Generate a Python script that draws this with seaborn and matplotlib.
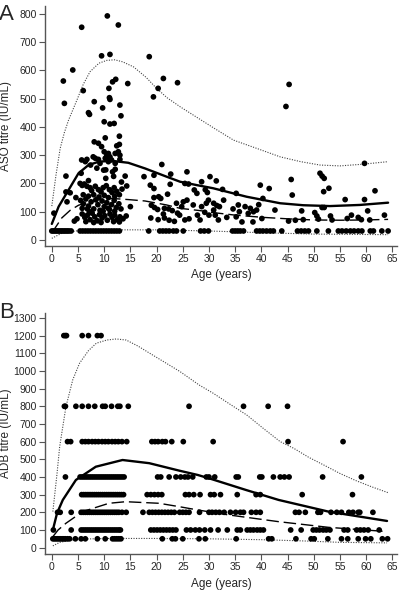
import matplotlib
matplotlib.use("Agg")
import matplotlib.pyplot as plt
import seaborn as sns
import pandas as pd

# ---------------- Panel A: ASO titre by age ----------------
# results at the assay floor
aso_floor = 32
aso_floor_age = [0.0, 0.3, 0.6, 0.9, 1.2, 1.5, 1.8, 2.1, 2.4, 2.7, 3.0, 3.3, 3.7,
                 5.4, 5.9, 6.4, 6.9, 7.4, 7.9, 8.4, 8.9, 9.4, 9.9, 10.4, 10.9, 11.4,
                 11.9, 12.4, 12.9, 18.5, 20.6, 21.2, 21.8, 22.4, 23.2, 23.8, 25.1,
                 28.4, 29.1, 29.9, 34.5, 35.0, 35.5, 36.0, 36.6, 39.1, 39.7, 40.3,
                 41.0, 41.7, 42.3, 43.9, 46.9, 47.6, 48.3, 49.0, 50.6, 52.8, 54.7,
                 55.4, 56.2, 57.0, 57.7, 58.5, 59.2, 60.8, 61.4, 63.0, 64.2]

# (age, titre) pairs
aso_high = [(2.2, 562), (2.4, 483), (4.0, 601), (5.7, 752), (6.0, 528), (7.0, 450),
            (7.2, 444), (8.1, 489), (9.5, 651), (9.7, 467), (10.6, 792), (11.1, 656),
            (10.9, 536), (11.0, 503), (11.1, 497), (11.6, 559), (12.2, 568), (12.7, 760),
            (13.0, 477), (13.2, 439), (10.0, 418), (11.1, 410), (11.9, 412), (10.2, 361),
            (12.9, 367), (8.1, 347), (8.9, 342), (9.5, 330), (12.4, 333), (12.9, 338),
            (14.5, 553), (18.6, 648), (19.4, 506), (20.3, 536), (21.3, 571), (24.0, 556),
            (45.3, 550), (44.7, 472)]

aso_young = [(0.4, 95), (2.7, 226), (2.7, 170), (3.5, 167), (2.9, 135), (4.3, 67),
             (4.6, 150)]

aso_child = [(5.7, 283), (6.4, 277), (6.7, 285), (7.4, 265), (7.9, 294), (8.3, 289),
             (8.9, 285), (9.2, 271), (10.2, 289), (10.5, 300), (10.8, 277), (11.1, 294),
             (11.4, 283), (12.1, 306), (12.7, 312), (13.0, 300), (13.0, 285), (12.1, 271),
             (10.0, 312), (10.8, 306),
             (5.6, 236), (8.6, 254), (9.9, 247), (10.3, 248), (11.6, 241), (12.1, 250),
             (11.8, 225), (14.0, 226), (10.3, 218), (7.0, 210), (13.3, 205),
             (5.4, 200), (5.8, 193), (6.2, 198), (6.7, 190), (7.3, 185), (7.6, 175),
             (8.3, 190), (8.9, 178), (9.4, 170), (9.8, 185), (10.4, 192), (11.0, 178),
             (11.5, 168), (11.9, 185), (12.4, 172), (12.9, 160), (13.4, 180), (14.3, 191),
             (6.0, 160), (7.0, 155), (8.0, 160), (9.0, 152), (10.0, 158), (10.8, 150),
             (12.0, 155),
             (5.5, 140), (6.0, 128), (6.5, 145), (7.0, 120), (7.5, 135), (8.0, 110),
             (8.4, 142), (8.8, 125), (9.2, 105), (9.6, 138), (10.0, 118), (10.5, 132),
             (11.0, 108), (11.4, 125), (11.9, 140), (12.3, 115), (12.8, 128), (13.2, 110),
             (5.8, 112), (7.2, 100), (9.8, 102), (6.8, 110), (10.8, 112), (12.0, 102),
             (15.0, 118),
             (5.8, 92), (6.3, 80), (6.8, 88), (7.3, 72), (7.7, 95), (8.2, 82), (8.7, 68),
             (9.1, 90), (9.6, 78), (10.1, 86), (10.6, 70), (11.1, 92), (11.5, 80),
             (12.0, 88), (12.5, 72), (13.0, 82), (13.6, 75), (4.8, 75), (6.5, 65),
             (8.0, 62), (9.4, 62), (11.8, 65), (12.9, 64), (14.2, 85)]

aso_young_adult = [(17.6, 224), (19.5, 229), (21.0, 267), (22.7, 233), (25.8, 241),
                   (22.6, 197), (18.8, 194), (19.5, 182), (19.5, 150), (20.4, 153),
                   (20.8, 147), (22.1, 162), (19.0, 123), (19.6, 115), (20.2, 108),
                   (21.5, 112), (22.3, 110), (23.0, 104), (18.9, 78), (20.3, 72),
                   (21.5, 78), (22.4, 70), (23.4, 66), (24.0, 95), (24.8, 118),
                   (25.1, 135), (25.4, 71), (25.4, 200), (26.1, 198), (27.2, 177),
                   (27.7, 165), (24.4, 88), (25.8, 141), (27.0, 124), (26.2, 75),
                   (27.8, 88), (21.3, 92), (23.8, 130)]

aso_adult = [(28.6, 206), (30.2, 224), (31.4, 209), (32.6, 179), (28.6, 118),
             (29.5, 130), (29.9, 141), (30.9, 130), (30.9, 106), (31.2, 88),
             (31.8, 71), (28.3, 71), (29.3, 178), (29.7, 168), (32.8, 141),
             (33.4, 80), (31.5, 122), (32.0, 118), (29.2, 98), (30.0, 88),
             (35.2, 165), (35.6, 124), (35.8, 100), (36.9, 118), (37.5, 94),
             (38.5, 100), (39.1, 106), (39.8, 194), (40.3, 147), (41.5, 182),
             (42.6, 106), (36.3, 64), (38.4, 64), (40.1, 76), (34.6, 110),
             (35.2, 82), (37.9, 112), (39.5, 125)]

aso_older = [(45.7, 214), (45.9, 159), (45.2, 67), (46.5, 70), (47.7, 103), (48.0, 72),
             (50.2, 97), (50.6, 85), (50.9, 74), (51.2, 236), (51.6, 226), (52.0, 218),
             (51.9, 171), (52.9, 183), (51.6, 115), (52.0, 115), (53.2, 85), (53.5, 71),
             (56.0, 143), (56.4, 76), (57.2, 88), (58.5, 80), (59.1, 72), (59.7, 143),
             (59.7, 271), (60.3, 103), (60.7, 71), (61.7, 174), (63.5, 88)]

# fitted percentile curves
aso_upper_age = [0, 0.8, 1.6, 2.4, 3.2, 4.8, 6, 7.3, 9, 10.5, 12, 13.5, 15.6, 18, 20,
                 22, 24.5, 28, 31, 34.7, 39.1, 43.6, 47.5, 51.2, 55, 59.4, 64.2]
aso_upper = [120, 230, 324, 380, 424, 495, 550, 595, 625, 635, 637, 630, 612, 575, 536,
             503, 471, 430, 395, 353, 324, 294, 277, 265, 262, 268, 277]
aso_median_age = [0, 1.3, 3.2, 5.1, 7.0, 9, 11.4, 14.6, 17.8, 21.9, 24.5, 27.7, 30.8,
                  37.2, 43.6, 48, 53.1, 58.8, 64.2]
aso_median = [57, 118, 177, 236, 265, 277, 280, 273, 253, 224, 206, 194, 183, 153, 130,
              123, 120, 124, 132]
aso_mid_age = [0, 1.9, 3.5, 5.1, 8.3, 11.4, 14.6, 17.8, 21.9, 24.5, 28.3, 30.8, 35,
               40.4, 45, 49.9, 55, 60, 64.2]
aso_mid = [25, 78, 105, 123, 141, 147, 143, 138, 124, 112, 104, 97, 88, 80, 75, 71, 70,
           71, 73]
aso_lower_age = [0, 1.9, 5, 10, 20, 30, 40, 50, 64.2]
aso_lower = [6, 24, 33, 36, 36, 32, 26, 21, 19]

# ---------------- Panel B: ADB titre by age ----------------
adb_levels = [1200, 800, 600, 400, 300, 200, 100, 50]
adb_1200 = [2.3, 2.6, 2.8, 5.8, 7.0, 8.7, 9.4]
adb_800 = [2.4, 2.6, 4.6, 5.8, 7.0, 8.2, 9.7, 10.2, 11.4, 12.6, 13.0, 14.6, 26.2, 36.6,
           41.3, 45.0]
adb_600 = [3.0, 3.6, 5.8, 6.4, 7.0, 7.7, 8.3, 8.9, 9.6, 10.2, 10.8, 11.5, 12.1, 12.7,
           13.4, 14.3, 19.1, 19.7, 20.3, 21.1, 21.7, 22.9, 25.1, 30.8, 45.1, 55.6]
adb_400 = [2.6, 5.4, 5.8, 6.2, 6.6, 7.0, 7.4, 7.8, 8.2, 8.6, 9.0, 9.4, 9.8, 10.2, 10.6,
           11.0, 11.4, 11.8, 12.2, 12.6, 13.0, 13.4, 13.8, 20.2, 20.8, 22.4, 23.7, 24.6,
           25.4, 26.0, 26.9, 29.5, 30.0, 31.1, 35.2, 35.6, 39.7, 40.1, 42.3, 43.6, 44.4,
           45.3, 51.7, 59.1]
adb_300 = [5.7, 6.1, 6.5, 6.9, 7.3, 7.7, 8.1, 8.5, 8.9, 9.3, 9.7, 10.1, 10.5, 10.9,
           11.3, 11.7, 12.1, 12.5, 12.9, 13.3, 13.7, 18.2, 18.9, 19.6, 20.3, 21.0, 25.5,
           26.2, 27.1, 28.3, 30.3, 31.0, 32.2, 35.4, 39.0, 39.8, 47.8, 57.4]
adb_200 = [1.1, 1.6, 3.7, 5.6, 6.0, 6.4, 6.8, 7.2, 7.6, 8.0, 8.4, 8.8, 9.2, 9.6, 10.0,
           10.4, 10.8, 11.2, 11.6, 12.0, 12.4, 12.8, 13.4, 14.2, 17.4, 18.6, 19.2, 19.8,
           20.4, 21.0, 21.6, 22.2, 22.8, 23.4, 24.4, 25.0, 25.6, 26.2, 28.2, 30.0, 30.6,
           31.3, 32.0, 32.9, 34.1, 35.1, 36.0, 36.6, 38.1, 39.0, 39.8, 46.5, 47.2, 48.4,
           50.8, 51.3, 53.3, 54.4, 55.3, 56.7, 57.5, 58.5, 58.8, 61.3]
adb_100 = [0.3, 3.7, 5.6, 6.0, 6.4, 6.8, 7.2, 7.6, 8.0, 8.4, 8.8, 9.2, 9.6, 10.0, 10.4,
           10.8, 11.2, 11.6, 12.0, 12.4, 12.8, 13.1, 18.9, 19.5, 20.1, 20.7, 21.3, 21.9,
           22.5, 23.1, 23.7, 25.7, 26.5, 27.4, 28.2, 29.2, 30.3, 31.75, 33.5, 35.4, 36.0,
           37.3, 37.9, 38.5, 39.2, 39.8, 40.4, 45.6, 47.6, 49.9, 50.5, 51.1, 51.8, 52.4,
           53.1, 55.8, 56.5, 58.2, 58.9, 59.6, 60.4, 62.5]
adb_50 = [0.2, 0.5, 0.8, 1.1, 1.4, 1.7, 2.0, 2.3, 2.6, 3.0, 3.4, 4.5, 5.6, 6.4, 8.7,
          10.2, 11.6, 12.0, 12.4, 12.8, 13.2, 21.1, 23.0, 23.6, 25.0, 28.1, 29.3, 35.2,
          41.4, 42.0, 46.6, 49.5, 50.1, 52.7, 55.3, 56.5, 58.5, 59.9, 60.9, 63.1, 64.1]

adb_upper_age = [0.2, 1.0, 1.5, 2.7, 4.0, 5.3, 7.0, 8.5, 10.5, 12.3, 14.2, 16.5, 18.7,
                 21.5, 24.5, 28.1, 30.8, 34, 37.2, 40.5, 43.6, 46.2, 49, 51.9, 55, 58,
                 61, 64.2]
adb_upper = [204, 420, 572, 798, 950, 1044, 1115, 1157, 1175, 1181, 1175, 1140, 1100,
             1050, 996, 921, 874, 812, 751, 672, 600, 562, 512, 468, 420, 380, 345, 311]
adb_median_age = [0.2, 1.0, 2.1, 4.6, 8.4, 13.5, 18.6, 24.3, 27.9, 30.6, 37, 43.3,
                  52.8, 64]
adb_median = [100, 195, 270, 383, 458, 496, 478, 436, 411, 387, 327, 270, 204, 151]
adb_mid_age = [0.2, 1.2, 2.7, 5.9, 10.9, 14.1, 20.5, 24.3, 27.9, 33.8, 43.3, 52.8, 64]
adb_mid = [62, 100, 138, 204, 251, 260, 251, 232, 213, 185, 147, 115, 91]
adb_lower_age = [0.2, 1.5, 4.6, 10, 20, 30, 40, 48, 55, 64]
adb_lower = [10, 30, 47, 52, 52, 50, 45, 38, 30, 27]


# ---------------- build tables ----------------
aso_pairs = aso_high + aso_young + aso_child + aso_young_adult + aso_adult + aso_older
df_aso = pd.DataFrame(aso_pairs, columns=["age", "titre"])
df_aso = pd.concat([df_aso, pd.DataFrame({"age": aso_floor_age,
                                          "titre": aso_floor})], ignore_index=True)

adb_rows = [adb_1200, adb_800, adb_600, adb_400, adb_300, adb_200, adb_100, adb_50]
df_adb = pd.concat([pd.DataFrame({"age": ages, "titre": lvl})
                    for lvl, ages in zip(adb_levels, adb_rows)], ignore_index=True)

sns.set_style("ticks")
plt.rcParams["font.family"] = ["Liberation Sans", "DejaVu Sans"]

fig = plt.figure(figsize=(4, 5.91), dpi=100)
axA = fig.add_axes([0.1125, 0.5838, 0.88, 0.406])
axB = fig.add_axes([0.1125, 0.0626, 0.88, 0.4078])

dotted = dict(color="#444444", linewidth=0.8, linestyle=(0, (1, 1.3)))
dashed = dict(color="black", linewidth=1.0, linestyle=(0, (9, 3.5)))
solid = dict(color="black", linewidth=1.7)


def draw_panel(ax, df, curves, ymax, ylim, ylabel):
    sns.scatterplot(data=df, x="age", y="titre", ax=ax, color="black", s=17,
                    edgecolor="none", linewidth=0, zorder=3)
    for (cx, cy), style in curves:
        sns.lineplot(x=cx, y=cy, ax=ax, sort=False, **style, zorder=2)
    ax.set_xlim(-1.3, 65.9)
    ax.set_ylim(*ylim)
    ax.set_xticks(range(0, 66, 5))
    ax.set_yticks(range(0, ymax + 1, 100))
    sns.despine(ax=ax)
    for side in ["left", "bottom"]:
        ax.spines[side].set_color("#555555")
        ax.spines[side].set_linewidth(1.0)
    ax.tick_params(direction="out", length=4, width=0.8, color="#555555",
                   labelsize=7.5, pad=2)
    ax.set_xlabel("Age (years)", fontsize=8.5)
    ax.set_ylabel(ylabel, fontsize=8.5)
    ax.xaxis.set_label_coords(0.5, -0.098)
    ax.yaxis.set_label_coords(-0.095, 0.5)


draw_panel(axA, df_aso,
           [((aso_upper_age, aso_upper), dotted),
            ((aso_median_age, aso_median), solid),
            ((aso_mid_age, aso_mid), dashed),
            ((aso_lower_age, aso_lower), dotted)],
           800, (-21, 827), "ASO titre (IU/mL)")
draw_panel(axB, df_adb,
           [((adb_upper_age, adb_upper), dotted),
            ((adb_median_age, adb_median), solid),
            ((adb_mid_age, adb_mid), dashed),
            ((adb_lower_age, adb_lower), dotted)],
           1300, (-36, 1328), "ADB titre (IU/mL)")

fig.text(-0.003, 0.993, "A", fontsize=16, va="top", ha="left")
fig.text(-0.003, 0.489, "B", fontsize=16, va="top", ha="left")

fig.savefig("out.png", dpi=100)
